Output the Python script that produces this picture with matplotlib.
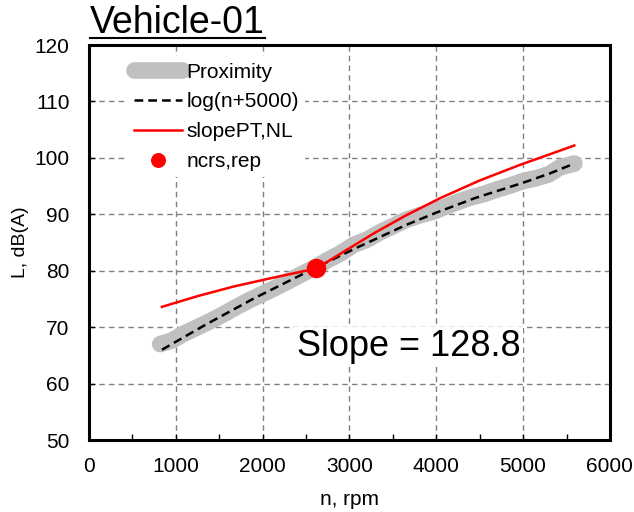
import matplotlib
matplotlib.use('Agg')
import matplotlib.pyplot as plt
from matplotlib.ticker import MultipleLocator

plt.rcParams['font.family'] = ['Liberation Sans', 'DejaVu Sans']

# measured level vs engine speed
prox_n = [820, 950, 1100, 1250, 1400, 1550, 1700, 1850, 2000, 2150, 2300,
          2450, 2620, 2750, 2900, 3050, 3200, 3350, 3500, 3650, 3800, 3950,
          4100, 4250, 4400, 4550, 4700, 4850, 5000, 5150, 5300, 5420, 5590]
prox_L = [67.0, 67.6, 68.9, 70.0, 71.1, 72.3, 73.6, 74.8, 75.9, 77.0, 78.2,
          79.4, 80.7, 81.9, 83.1, 84.6, 85.5, 86.8, 87.9, 89.0, 89.8, 90.4,
          91.3, 92.2, 93.0, 93.6, 94.4, 95.1, 95.9, 96.4, 97.1, 98.3, 99.0]

# log(n+5000) fit
fit_n = [840, 1350, 1900, 2500, 3100, 3650, 4000, 4450, 5000, 5300, 5590]
fit_L = [66.0, 70.5, 75.1, 79.7, 84.2, 88.1, 90.3, 92.9, 95.6, 97.2, 99.0]

# slope line through the reference point
slope_n = [840, 1250, 1665, 2100, 2620, 3000, 3300, 3650, 4050, 4500,
           4970, 5300, 5590]
slope_L = [73.6, 75.5, 77.2, 78.7, 80.4, 84.0, 86.8, 89.8, 92.9, 96.0,
           98.8, 100.6, 102.2]

ncrs_n = [2620]
ncrs_L = [80.4]
slope_value = 128.8

fig = plt.figure(figsize=(6.34, 5.12), dpi=100)
ax = fig.add_axes([0.1404, 0.1406, 0.8216, 0.7714])

ax.plot(prox_n, prox_L, color='#c0c0c0', lw=12, solid_capstyle='round',
        solid_joinstyle='round', label='Proximity', zorder=2)
ax.plot(fit_n, fit_L, color='black', lw=1.8, dashes=(3.5, 2),
        label='log(n+5000)', zorder=3)
ax.plot(slope_n, slope_L, color='red', lw=1.8, label='slopePT,NL', zorder=4)
ax.plot(ncrs_n, ncrs_L, 'o', color='red', ms=13, label='ncrs,rep', zorder=5)

ax.set_xlim(0, 6000)
ax.set_ylim(50, 120)
ax.xaxis.set_major_locator(MultipleLocator(1000))
ax.xaxis.set_minor_locator(MultipleLocator(500))
ax.yaxis.set_major_locator(MultipleLocator(10))
ax.tick_params(which='both', direction='in', labelsize=15, length=4, width=1)
ax.tick_params(axis='x', pad=12)
ax.tick_params(axis='y', pad=14)
ax.grid(True, color='#808080', lw=1, dashes=(4, 3))
ax.set_axisbelow(True)
for s in ax.spines.values():
    s.set_linewidth(2.2)

ax.set_xlabel('n, rpm', fontsize=15, labelpad=10)
ax.set_ylabel('L, dB(A)', fontsize=14, labelpad=4)

leg = ax.legend(loc='upper left', bbox_to_anchor=(0.055, 0.998), fontsize=15,
                frameon=True, handlelength=2.3, handletextpad=0.2,
                labelspacing=0.52, borderpad=0.3, markerscale=0.75)
leg.get_frame().set_edgecolor('none')
leg.get_frame().set_facecolor('white')
leg.get_frame().set_alpha(1)

ax.text(3680, 66.5, f'Slope = {slope_value}', fontsize=26, ha='center',
        va='center', zorder=6,
        bbox=dict(facecolor='white', edgecolor='none', pad=2))

fig.text(0.142, 0.955, 'Vehicle-01', fontsize=27, ha='left', va='center')
fig.add_artist(plt.Line2D([0.142, 0.418], [0.925, 0.925], color='black',
                          lw=1.5, transform=fig.transFigure))

fig.savefig('out.png', dpi=100)
